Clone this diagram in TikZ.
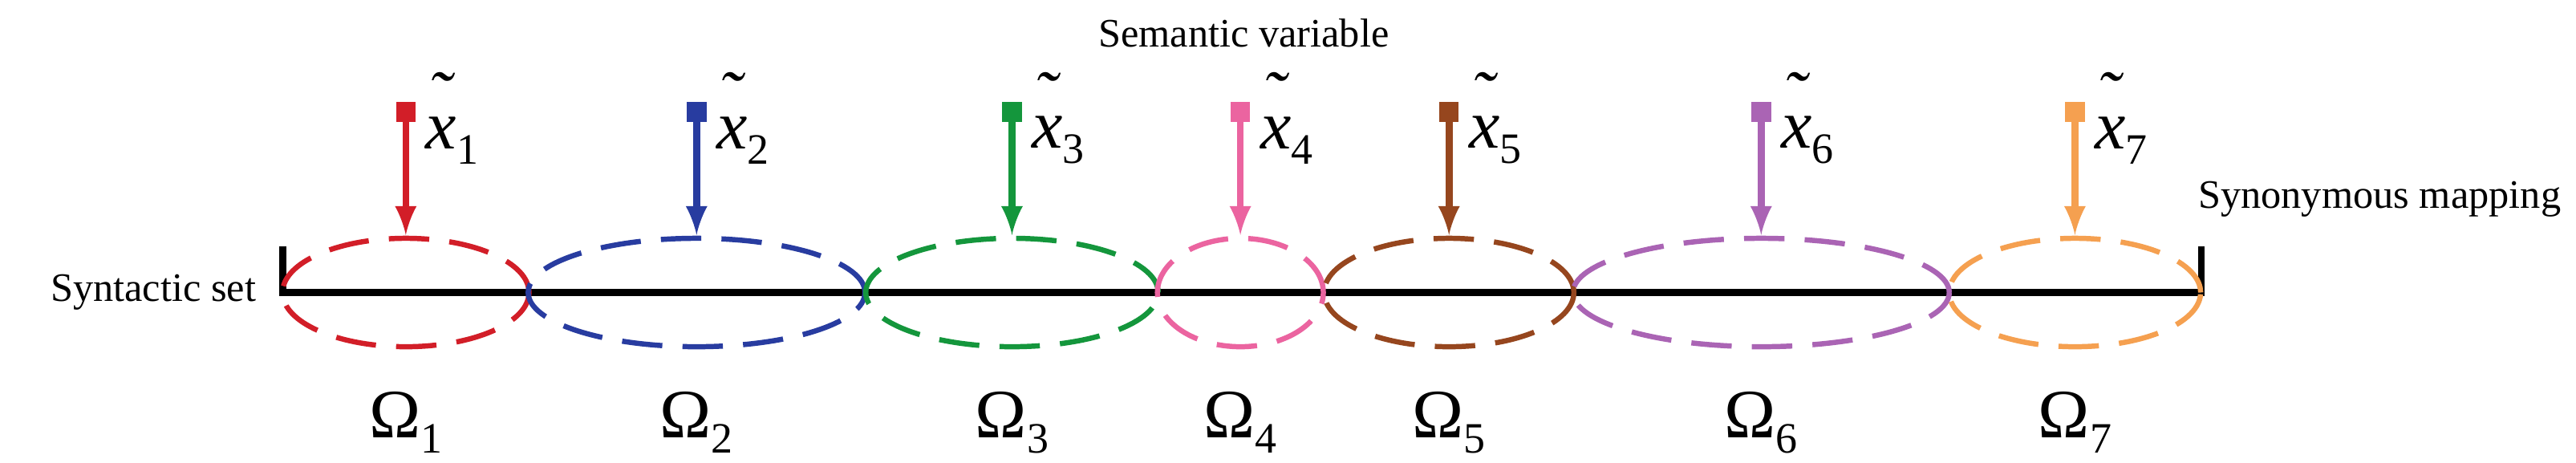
\documentclass[tikz,border=0pt]{standalone}
\usepackage{fontspec}
\setmainfont{Liberation Serif}
\newfontfamily\tnr{Liberation Serif}
\usetikzlibrary{arrows}
\definecolor{c1}{RGB}{210,30,40}
\definecolor{c2}{RGB}{40,60,160}
\definecolor{c3}{RGB}{20,150,60}
\definecolor{c4}{RGB}{235,100,160}
\definecolor{c5}{RGB}{150,70,30}
\definecolor{c6}{RGB}{170,100,180}
\definecolor{c7}{RGB}{245,160,80}
\newcommand{\sub}[1]{\raisebox{-0.22em}{\fontsize{15}{16}\selectfont #1}}
\newcommand{\xt}{\textit{x}\llap{\raisebox{0.42em}{\textit{\char"02DC}}\hspace{0.02em}}}
\begin{document}
\begin{tikzpicture}[x=0.02cm,y=-0.02cm,>=latex,
                    set/.style={dashed,dash pattern=on 14pt off 7pt,line width=1.8pt},
                    arr/.style={->,line width=2.4pt},
                    txt/.style={font=\tnr\fontsize{14}{16}\selectfont},
                    big/.style={font=\tnr\fontsize{24}{26}\selectfont}]
  \useasboundingbox (0,0) rectangle (1568,281.7);
  \node[txt] (sem) at (757,20) {Semantic variable};
  \node[txt,anchor=east] (syn) at (162,178) {Syntactic set};
  \node[txt,anchor=east] (map) at (1565,121) {Synonymous mapping};
  \coordinate (l) at (172,178);
  \coordinate (r) at (1340,178);
  \draw[line width=2.4pt] ([yshift=0.56cm]l) -- (l) -- (r) -- ([yshift=0.56cm]r);
  \foreach \i/\a/\b/\c in {1/172/322/247,2/322/527/424,3/527/705/616,
                           4/705/806/755,5/806/958/882,6/958/1187/1072,7/1187/1340/1263}{
    \draw[set,c\i] (\c,178) ellipse[x radius={(\b-\a)/2*0.02cm},y radius=0.66cm];
    \node[big] (o\i) at (\c,257) {Ω\sub{\i}};
    \node[fill=c\i,minimum size=0.24cm,inner sep=0pt] (q\i) at (\c,68) {};
    \coordinate (t\i) at (\c,143);
    \draw[arr,c\i] (q\i) -- (t\i);
    \node[big,anchor=west] (x\i) at (\c+6,72) {\xt\sub{\i}};
  }
\end{tikzpicture}
\end{document}
